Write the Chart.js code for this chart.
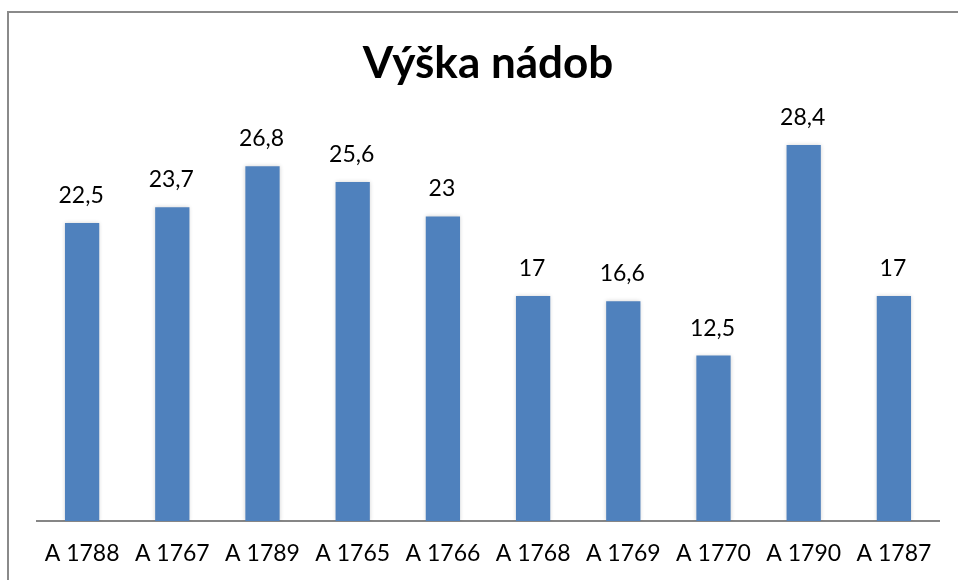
<!DOCTYPE html>
<html>
<head>
<meta charset="utf-8">
<script src="https://cdn.jsdelivr.net/npm/chart.js@4/dist/chart.umd.min.js"></script>
<style>
  html, body { margin: 0; padding: 0; background: #fff; }
  #wrap { position: relative; width: 958px; height: 580px; overflow: hidden; }
  #frame { position: absolute; left: 7px; top: 11px; width: 1000px; height: 620px;
           border: 2px solid #8a8a8a; box-sizing: border-box; }
  canvas { position: absolute; left: 0; top: 0; }
</style>
</head>
<body>
<div id="wrap">
  <div id="frame"></div>
  <canvas id="c" width="958" height="580"></canvas>
</div>
<script>
// data
const titleText = 'Výška nádob';
const categories = ['A 1788', 'A 1767', 'A 1789', 'A 1765', 'A 1766', 'A 1768', 'A 1769', 'A 1770', 'A 1790', 'A 1787'];
const heights = [22.5, 23.7, 26.8, 25.6, 23, 17, 16.6, 12.5, 28.4, 17];

const labelFont = 'Lato, "Open Sans", sans-serif';

// soft shadow round the bars, like the Excel original
const barShadow = {
  id: 'barShadow',
  beforeDatasetsDraw(chart) {
    const ctx = chart.ctx;
    ctx.save();
    ctx.shadowColor = 'rgba(0,0,0,0.18)';
    ctx.shadowBlur = 4;
  },
  afterDatasetsDraw(chart) {
    chart.ctx.restore();
  }
};

// values above the bars, with decimal comma
const valueLabels = {
  id: 'valueLabels',
  afterDatasetsDraw(chart) {
    const ctx = chart.ctx;
    const meta = chart.getDatasetMeta(0);
    ctx.save();
    ctx.font = '23px ' + labelFont;
    ctx.fillStyle = '#000';
    ctx.textAlign = 'center';
    ctx.textBaseline = 'alphabetic';
    meta.data.forEach((bar, i) => {
      const txt = String(heights[i]).replace('.', ',');
      ctx.fillText(txt, bar.x - 1, bar.y - 20);
    });
    ctx.restore();
  }
};

new Chart(document.getElementById('c'), {
  type: 'bar',
  data: {
    labels: categories,
    datasets: [{
      data: heights,
      backgroundColor: '#4f81bd',
      borderWidth: 0,
      categoryPercentage: 1,
      barPercentage: 0.38
    }]
  },
  options: {
    responsive: false,
    animation: false,
    layout: { padding: { left: 37, right: 19, top: 37, bottom: 11 } },
    plugins: {
      legend: { display: false },
      tooltip: { enabled: false },
      title: {
        display: true,
        text: titleText,
        color: '#000',
        font: { family: labelFont, size: 44, weight: 'bold', lineHeight: 1.2 },
        padding: { top: 0, bottom: 34 }
      }
    },
    scales: {
      x: {
        grid: { display: false, drawTicks: false },
        border: { display: true, color: '#868686', width: 2 },
        ticks: { color: '#000', padding: 19, font: { family: labelFont, size: 23 } },
        afterFit(scale) { scale.height = 48; }
      },
      y: {
        display: false,
        min: 0,
        max: 30
      }
    }
  },
  plugins: [barShadow, valueLabels]
});
</script>
</body>
</html>
